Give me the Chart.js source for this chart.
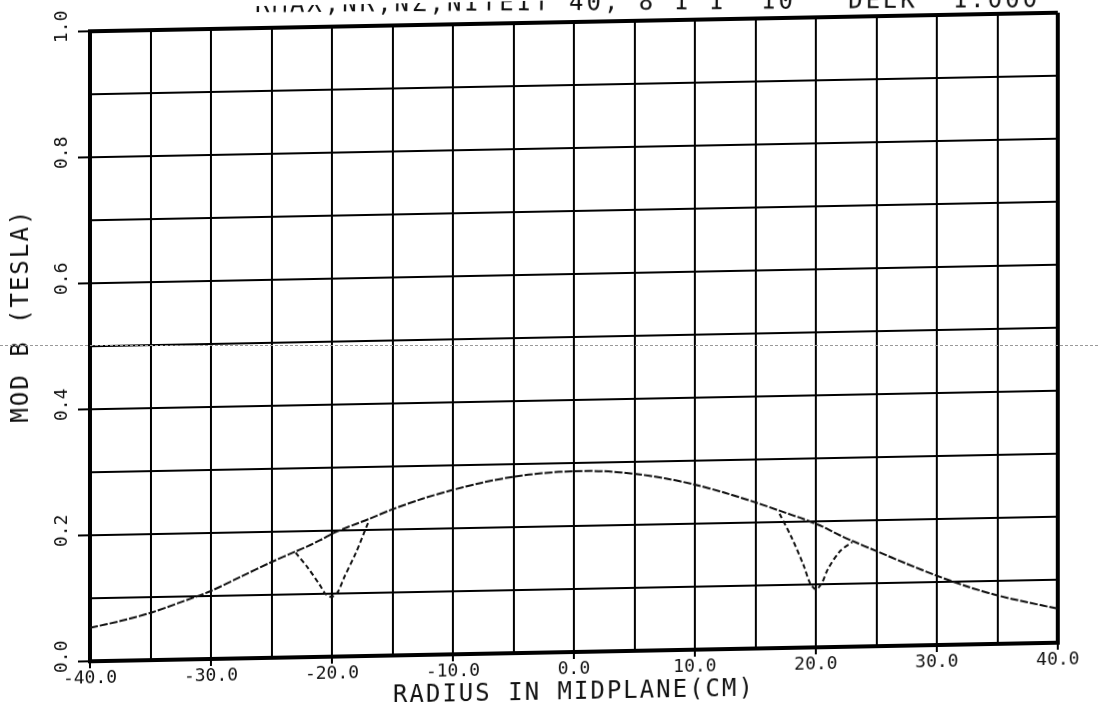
<!DOCTYPE html>
<html>
<head>
<meta charset="utf-8">
<script src="https://cdn.jsdelivr.net/npm/chart.js@4.4.0/dist/chart.umd.min.js"></script>
<style>
html, body { margin: 0; padding: 0; background: #fff; overflow: hidden; }
#wrap { position: absolute; left: 0; top: 0; width: 1098px; height: 702px; transform: skewY(-1.1deg); transform-origin: 574px 340px; }
/* fold mark of the scanned sheet */
#fold { position: absolute; left: 0; top: 345px; width: 1098px; height: 0; border-top: 1px dashed #9a9a9a; }
</style>
</head>
<body>
<div id="wrap"><canvas id="fieldChart" width="1098" height="702"></canvas></div>
<div id="fold"></div>
<script>
// Radius in midplane (cm)
const radius = [-40, -37.5, -35, -32.5, -30, -27.5, -25, -23, -22, -21, -20.5, -20, -19.5, -19, -18, -17,
    -15, -12.5, -10, -7.5, -5, -2.5, 0, 2.5, 5, 7.5, 10, 12.5, 15,
    17, 18, 19, 19.5, 20, 20.5, 21, 22, 23, 25, 27.5, 30, 32.5, 35, 37.5, 40];

// |B| without the dips (tesla)
const smoothField = [0.053, 0.063, 0.075, 0.091, 0.108, 0.130, 0.152, 0.168, 0.176, 0.185, 0.190, 0.195, 0.199, 0.203, 0.210, 0.217,
    0.232, 0.248, 0.261, 0.272, 0.280, 0.285, 0.287, 0.286, 0.281, 0.273, 0.262, 0.248, 0.232,
    0.218, 0.211, 0.204, 0.200, 0.196, 0.192, 0.187, 0.177, 0.168, 0.151, 0.130, 0.110, 0.092, 0.077, 0.065, 0.054];

// |B| with the dips near r = +-20 cm (null where it follows the smooth curve)
const dipField = [null, null, null, null, null, null, null, 0.166, 0.142, 0.114, 0.099, 0.095, 0.103, 0.125, 0.165, 0.212,
    null, null, null, null, null, null, null, null, null, null, null, null, null,
    0.213, 0.175, 0.130, 0.103, 0.092, 0.102, 0.124, 0.152, 0.166, null, null, null, null, null, null, null];

const xLabels = [-40, -30, -20, -10, 0, 10, 20, 30, 40];
const yLabels = [0.0, 0.2, 0.4, 0.6, 0.8, 1.0];
const topTitle = 'RMAX,NR,NZ,NITEIT 40, 8 1 1  10   DEEK  1.000';
const xTitle = 'RADIUS IN MIDPLANE(CM)';
const yTitle = 'MOD B (TESLA)';

const plotFont = '"DejaVu Sans Mono", "Liberation Mono", monospace';

// Plotter-style lettering: rotated y labels and axis titles
const plotterText = {
    id: 'plotterText',
    afterDraw(chart) {
        const ctx = chart.ctx;
        const area = chart.chartArea;
        const yScale = chart.scales.y;
        ctx.save();
        ctx.fillStyle = '#111';
        ctx.textAlign = 'center';
        ctx.textBaseline = 'middle';

        ctx.font = '18px ' + plotFont;
        yLabels.forEach(v => {
            ctx.save();
            ctx.translate(area.left - 28, yScale.getPixelForValue(v) - 5);
            ctx.rotate(-Math.PI / 2);
            ctx.fillText(v.toFixed(1), 0, 0);
            ctx.restore();
        });

        ctx.font = '24px ' + plotFont;
        ctx.letterSpacing = '2px';
        ctx.fillText(xTitle, (area.left + area.right) / 2, area.bottom + 41);

        ctx.save();
        ctx.translate(22, (area.top + area.bottom) / 2 - 32);
        ctx.rotate(-Math.PI / 2);
        ctx.fillText(yTitle, 0, 0);
        ctx.restore();

        // title line, cut off by the top edge of the sheet
        ctx.save();
        ctx.letterSpacing = '3px';
        ctx.textAlign = 'left';
        ctx.textBaseline = 'alphabetic';
        ctx.translate(255, 6);
        ctx.rotate(0.0125);
        ctx.fillText(topTitle, 0, 0);
        ctx.restore();
        ctx.restore();
    }
};

const isLabelled = v => Math.round(v * 10) % 2 === 0;

new Chart(document.getElementById('fieldChart'), {
    type: 'line',
    data: {
        datasets: [
            {
                label: 'smooth',
                data: radius.map((r, i) => ({ x: r, y: smoothField[i] })),
                borderColor: '#111',
                borderWidth: 2,
                borderDash: [8, 2],
                pointRadius: 0,
                tension: 0.3,
                fill: false,
            },
            {
                label: 'dips',
                data: radius.map((r, i) => ({ x: r, y: dipField[i] })),
                borderColor: '#111',
                borderWidth: 2,
                borderDash: [5, 3],
                pointRadius: 0,
                tension: 0.3,
                spanGaps: false,
                fill: false,
            }
        ]
    },
    options: {
        responsive: false,
        animation: false,
        devicePixelRatio: 1,
        layout: {
            padding: { top: 22, right: 40, left: 0, bottom: 0 }
        },
        plugins: {
            legend: { display: false },
            tooltip: { enabled: false },
        },
        scales: {
            x: {
                type: 'linear',
                min: -40,
                max: 40,
                afterFit: function(scale) { scale.height = 50; },
                border: { color: '#000', width: 4 },
                grid: {
                    color: '#000',
                    lineWidth: ctx => (ctx.tick && Math.abs(ctx.tick.value) === 40) ? 4 : 2,
                    tickLength: 7,
                    tickColor: ctx => (ctx.tick && ctx.tick.value % 10 === 0) ? '#000' : 'rgba(0,0,0,0)',
                    tickWidth: 2,
                },
                ticks: {
                    stepSize: 5,
                    autoSkip: false,
                    maxRotation: 0,
                    padding: 0,
                    color: '#111',
                    font: { family: plotFont, size: 18 },
                    callback: function(value) {
                        return xLabels.includes(value) ? value.toFixed(1) : '';
                    }
                }
            },
            y: {
                type: 'linear',
                min: 0,
                max: 1,
                afterFit: function(scale) { scale.width = 90; },
                border: { color: '#000', width: 4 },
                grid: {
                    color: '#000',
                    lineWidth: ctx => (ctx.tick && ctx.tick.value >= 0.999) ? 4 : 2,
                    tickLength: 12,
                    tickColor: ctx => (ctx.tick && isLabelled(ctx.tick.value)) ? '#000' : 'rgba(0,0,0,0)',
                    tickWidth: 2,
                },
                ticks: {
                    stepSize: 0.1,
                    autoSkip: false,
                    callback: function() { return ''; }
                }
            }
        }
    },
    plugins: [plotterText]
});
</script>
</body>
</html>
